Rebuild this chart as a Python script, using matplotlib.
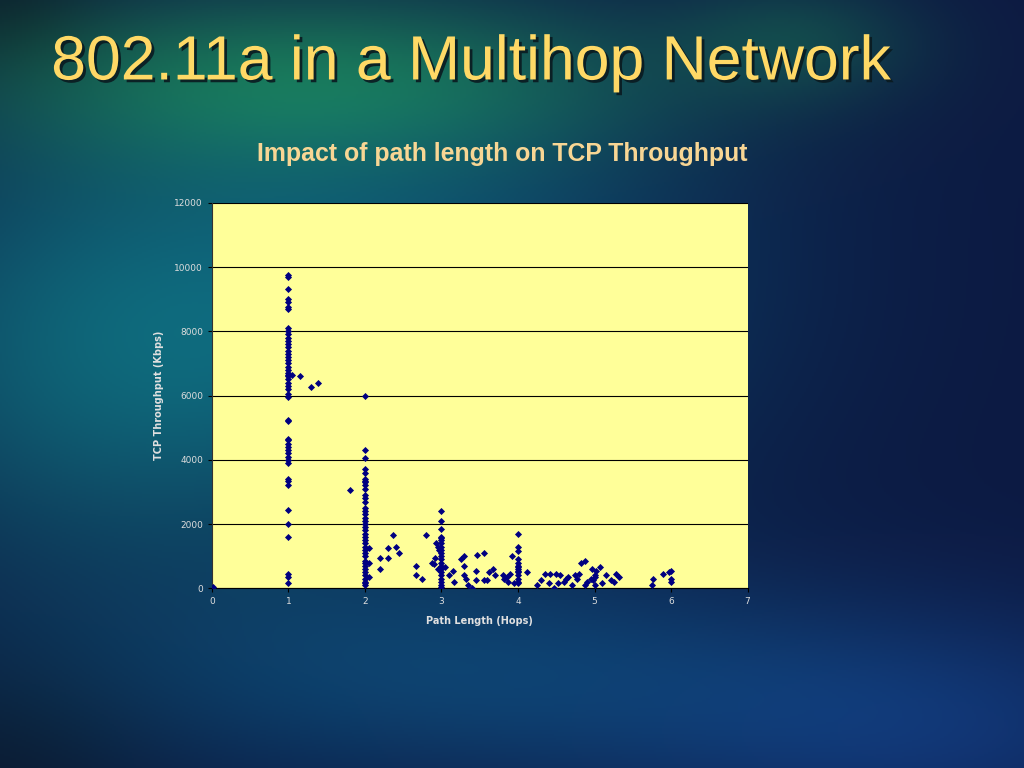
import matplotlib
matplotlib.use('Agg')
import matplotlib.pyplot as plt
import matplotlib.patheffects as pe
import numpy as np

# hop count / throughput pairs
hops_1 = [1] * 50
tput_1 = [9750, 9700, 9300, 9000, 8900, 8750, 8700, 8100, 8000, 7900,
          7800, 7700, 7600, 7500, 7400, 7300, 7200, 7100, 7000, 6900,
          6800, 6700, 6650, 6600, 6500, 6400, 6300, 6200, 6050, 5950,
          5250, 5200, 4650, 4600, 4500, 4400, 4300, 4200, 4100, 4000,
          3900, 3400, 3350, 3200, 2450, 2000, 1600, 450, 350, 150]
hops_2 = [2] * 39
tput_2 = [6000, 4300, 4050, 3700, 3600, 3400, 3350, 3300, 3200, 3100,
          2900, 2800, 2700, 2500, 2400, 2300, 2200, 2100, 2000, 1900,
          1800, 1700, 1600, 1500, 1400, 1300, 1200, 1100, 1000, 850,
          800, 700, 600, 500, 400, 300, 200, 150, 100]
hops_3 = [3] * 21
tput_3 = [2400, 2100, 1850, 1600, 1550, 1500, 1400, 1300, 1200, 1100,
          1000, 900, 800, 700, 600, 500, 400, 300, 200, 100, 50]
hops_4 = [4] * 14
tput_4 = [1700, 1300, 1150, 900, 800, 700, 650, 600, 550, 500, 400, 300, 200, 150]

# runs with averaged (non-integer) path length
hops_avg = [0, 0.02, 1.05, 1.15, 1.3, 1.38, 1.8,
            2.05, 2.05, 2.05, 2.2, 2.2, 2.3, 2.3, 2.36, 2.4, 2.45,
            2.67, 2.67, 2.75, 2.8, 2.87, 2.9, 2.92, 2.93, 2.95, 2.95, 2.97,
            3.05, 3.1, 3.15, 3.17, 3.25, 3.3, 3.3, 3.3, 3.32, 3.35, 3.4,
            3.45, 3.45, 3.47, 3.55, 3.55, 3.6, 3.62, 3.67, 3.7, 3.8, 3.82,
            3.85, 3.87, 3.9, 3.92, 3.95,
            4.12, 4.25, 4.3, 4.35, 4.4, 4.42, 4.47, 4.5, 4.52, 4.55, 4.6,
            4.63, 4.65, 4.7, 4.75, 4.77, 4.8, 4.82, 4.87, 4.88, 4.9, 4.95,
            4.97, 4.98, 5.0, 5.0, 5.0, 5.02, 5.07, 5.1, 5.15, 5.22, 5.25,
            5.28, 5.32, 5.75, 5.77, 5.9, 5.97, 6.0, 6.0, 6.0]
tput_avg = [0, 30, 6650, 6600, 6250, 6400, 3050,
            1250, 800, 350, 950, 600, 1250, 950, 1650, 1300, 1100,
            700, 400, 300, 1650, 800, 750, 950, 1400, 1300, 600, 1200,
            650, 400, 550, 200, 900, 1000, 700, 400, 300, 100, 0,
            250, 550, 1050, 1100, 250, 250, 500, 600, 400, 400, 300,
            350, 200, 450, 1000, 150,
            500, 100, 250, 450, 150, 450, 0, 450, 150, 400, 200,
            300, 350, 100, 400, 300, 450, 800, 850, 100, 200, 300,
            600, 250, 400, 350, 100, 550, 650, 150, 400, 250, 200,
            450, 350, 100, 300, 450, 500, 550, 300, 200]

x_ticks = [0, 1, 2, 3, 4, 5, 6, 7]
y_ticks = [0, 2000, 4000, 6000, 8000, 10000, 12000]

fig = plt.figure(figsize=(10.24, 7.68), dpi=100)

# slide background: navy base with teal / green glows
bg = fig.add_axes([0, 0, 1, 1])
H, W = 384, 512
yy, xx = np.mgrid[0:H, 0:W]
u = xx / W
v = yy / H
base = np.array([0.05, 0.10, 0.26])
img = np.ones((H, W, 3)) * base

def blob(cx, cy, sx, sy, col, amt):
    g = np.exp(-(((u - cx) / sx) ** 2 + ((v - cy) / sy) ** 2))
    return g[..., None] * (np.array(col) - base) * amt

img += blob(0.3, 0.1, 0.35, 0.12, [0.10, 0.40, 0.28], 0.9)
img += blob(0.12, 0.45, 0.3, 0.3, [0.06, 0.42, 0.48], 0.85)
img += blob(0.45, 0.35, 0.3, 0.3, [0.05, 0.34, 0.48], 0.6)
img += blob(0.45, 0.88, 0.4, 0.15, [0.05, 0.33, 0.52], 0.6)
img += blob(0.78, 0.05, 0.12, 0.08, [0.08, 0.33, 0.30], 0.6)
img += blob(0.9, 0.95, 0.3, 0.15, [0.08, 0.25, 0.55], 0.6)
img += blob(0.0, 0.0, 0.1, 0.1, [0.04, 0.06, 0.15], 0.8)
img += blob(0.0, 1.0, 0.15, 0.15, [0.04, 0.08, 0.15], 0.7)
img = np.clip(img, 0, 1)
bg.imshow(img, aspect='auto', extent=[0, 1, 0, 1], origin='upper')
bg.set_xlim(0, 1)
bg.set_ylim(0, 1)
bg.axis('off')

fig.text(0.05, 0.918, '802.11a in a Multihop Network', color='#FFD966',
         fontsize=45, va='center', ha='left', family='Liberation Sans',
         path_effects=[pe.withSimplePatchShadow(offset=(2, -2), shadow_rgbFace='#0a1a20', alpha=0.9)])

fig.text(0.49, 0.8, 'Impact of path length on TCP Throughput', color='#F8D694',
         fontsize=17.9, fontweight='bold', ha='center', va='center', family='Liberation Sans')

ax = fig.add_axes([0.207, 0.234, 0.523, 0.502])
ax.set_facecolor('#FFFF99')

all_x = hops_1 + hops_2 + hops_3 + hops_4 + hops_avg
all_y = tput_1 + tput_2 + tput_3 + tput_4 + tput_avg
ax.scatter(all_x, all_y, marker='D', s=13, color='#000080', zorder=3, linewidths=0)

ax.set_xlim(0, 7)
ax.set_ylim(0, 12000)
ax.set_xticks(x_ticks)
ax.set_yticks(y_ticks)
ax.yaxis.grid(True, color='black', linewidth=0.8)
ax.set_axisbelow(True)
for side in ['top', 'right']:
    ax.spines[side].set_visible(False)
ax.spines['left'].set_color('#333333')
ax.spines['bottom'].set_color('black')
ax.tick_params(axis='both', colors='#dddddd', labelsize=6.5, length=3, direction='out')
ax.tick_params(axis='both', color='black')

ax.set_xlabel('Path Length (Hops)', color='#e0e0e0', fontsize=7, fontweight='bold', labelpad=7)
ax.set_ylabel('TCP Throughput (Kbps)', color='#e0e0e0', fontsize=7, fontweight='bold', labelpad=7)

fig.savefig('out.png', dpi=100)
